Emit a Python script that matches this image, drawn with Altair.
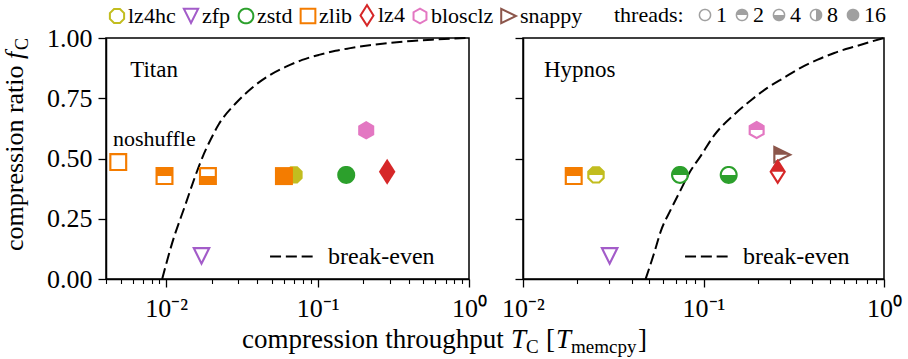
import math
import altair as alt
import pandas as pd

FONT = "Liberation Serif"

# ---------------- data ----------------
compressors = ["lz4hc", "zfp", "zstd", "zlib", "lz4", "blosclz", "snappy"]
comp_colors = ["#c2bd1f", "#a35cc9", "#2ca02c", "#f47c00", "#d62728", "#e377c2", "#8c564b"]
comp_shapes = ["octagon", "tri_down", "circle", "square", "thin_diamond", "hexagon", "tri_right"]
thread_levels = ["1", "2", "4", "8", "16"]
thread_fills = ["none", "top", "bottom", "right", "full"]
thread_color = "#a0a0a0"

# Titan
titan_comp = ["lz4hc", "zfp", "zlib", "zlib", "zlib", "zlib", "zstd", "lz4", "blosclz"]
titan_threads = ["16", "1", "1", "2", "4", "16", "16", "16", "16"]
titan_T = [0.0697, 0.0171, 0.00482, 0.00974, 0.01885, 0.0599, 0.1545, 0.288, 0.2094]
titan_f = [0.432, 0.095, 0.485, 0.427, 0.427, 0.427, 0.432, 0.445, 0.617]

# Hypnos
hyp_comp = ["lz4hc", "zfp", "zstd", "zstd", "zlib", "snappy", "blosclz", "lz4"]
hyp_threads = ["2", "1", "2", "4", "2", "2", "2", "2"]
hyp_T = [0.02537, 0.0302, 0.0741, 0.1379, 0.0191, 0.2747, 0.197, 0.2577]
hyp_f = [0.432, 0.095, 0.432, 0.432, 0.427, 0.516, 0.618, 0.445]

# break-even curves
titan_be_T = [0.0094, 0.01095, 0.01341, 0.01561, 0.01729, 0.01962, 0.02229, 0.02869, 0.03698,
              0.04768, 0.06138, 0.07911, 0.102, 0.1313, 0.161, 0.22, 0.3, 0.42, 0.6, 0.8, 1.0]
titan_be_f = [0.0, 0.15, 0.31, 0.43, 0.503, 0.578, 0.643, 0.728, 0.794,
              0.844, 0.880, 0.909, 0.930, 0.947, 0.957, 0.970, 0.980, 0.988, 0.994, 0.998, 1.0]
hyp_be_T = [0.0478, 0.0534, 0.0581, 0.0661, 0.0750, 0.0834, 0.0968, 0.1148, 0.1482,
            0.1833, 0.2268, 0.2804, 0.3469, 0.4293, 0.5305, 0.7148, 0.85, 1.0]
hyp_be_f = [0.0, 0.11, 0.20, 0.29, 0.372, 0.44, 0.512, 0.597, 0.683,
            0.742, 0.794, 0.836, 0.877, 0.910, 0.938, 0.968, 0.985, 1.0]
be_label = "break-even"

# annotations
titan_ann = {"text": ["Titan", "noshuffle"], "T": [0.00578, 0.00445], "f": [0.838, 0.552], "size": [23, 22]}
hyp_ann = {"text": ["Hypnos"], "T": [0.01307], "f": [0.838], "size": [23]}

y_ticks = [0.0, 0.25, 0.5, 0.75, 1.0]
left_major = [0.01, 0.1, 1.0]
left_minor = [0.004, 0.005, 0.006, 0.007, 0.008, 0.009,
              0.02, 0.03, 0.04, 0.05, 0.06, 0.07, 0.08, 0.09,
              0.2, 0.3, 0.4, 0.5, 0.6, 0.7, 0.8, 0.9]
right_major = [0.01, 0.1, 1.0]
right_minor = [0.02, 0.03, 0.04, 0.05, 0.06, 0.07, 0.08, 0.09,
               0.2, 0.3, 0.4, 0.5, 0.6, 0.7, 0.8, 0.9]
exp_label = "datum.value == 0.01 ? '10⁻²' : datum.value == 0.1 ? '10⁻¹' : datum.value == 1 ? '10⁰' : ''"

# ---------------- marker shapes (styles) ----------------
def regular(n, r, rot):
    return [(r * math.sin(math.radians(rot + 360.0 * k / n)),
             -r * math.cos(math.radians(rot + 360.0 * k / n))) for k in range(n)]

BASE = {
    "circle": regular(48, 1.0, 0),
    "square": [(-1.0, -1.0), (1.0, -1.0), (1.0, 1.0), (-1.0, 1.0)],
    "octagon": regular(8, 1.05, 22.5),
    "hexagon": regular(6, 1.03, 0),
    "thin_diamond": [(0.0, -1.45), (0.92, 0.0), (0.0, 1.45), (-0.92, 0.0)],
    "tri_down": [(-1.05, -1.0), (1.05, -1.0), (0.0, 1.1)],
    "tri_right": [(-1.05, -1.05), (1.1, 0.0), (-1.05, 1.05)],
}


def signed_area(p):
    return 0.5 * sum(p[i][0] * p[(i + 1) % len(p)][1] - p[(i + 1) % len(p)][0] * p[i][1]
                     for i in range(len(p)))


def inset(poly, d):
    s = 1.0 if signed_area(poly) > 0 else -1.0
    n = len(poly)
    lines = []
    for i in range(n):
        (x1, y1), (x2, y2) = poly[i], poly[(i + 1) % n]
        ex, ey = x2 - x1, y2 - y1
        L = math.hypot(ex, ey)
        ex, ey = ex / L, ey / L
        nx, ny = -ey * s, ex * s
        lines.append(((x1 + nx * d, y1 + ny * d), (ex, ey)))
    out = []
    for i in range(n):
        (px, py), (e1x, e1y) = lines[i - 1]
        (qx, qy), (e2x, e2y) = lines[i]
        den = e1x * e2y - e1y * e2x
        t = ((qx - px) * e2y - (qy - py) * e2x) / den
        out.append((px + t * e1x, py + t * e1y))
    return out


HALF = {"top": lambda p: p[1], "bottom": lambda p: -p[1],
        "right": lambda p: -p[0], "left": lambda p: p[0]}


def clip_half(poly, f):
    out = []
    n = len(poly)
    for i in range(n):
        cur, prev = poly[i], poly[i - 1]
        fc, fp = f(cur), f(prev)
        if fc <= 0:
            if fp > 0:
                t = fp / (fp - fc)
                out.append((prev[0] + t * (cur[0] - prev[0]), prev[1] + t * (cur[1] - prev[1])))
            out.append(cur)
        elif fp <= 0:
            t = fp / (fp - fc)
            out.append((prev[0] + t * (cur[0] - prev[0]), prev[1] + t * (cur[1] - prev[1])))
    return out


def path_str(poly):
    return "M" + "L".join(f"{x:.3f},{y:.3f}" for x, y in poly) + "Z"


def marker_path(shape, fill, d=0.24):
    outer = BASE[shape]
    if fill == "full":
        return path_str(outer)
    inner = inset(outer, d)
    p = path_str(outer) + path_str(list(reversed(inner)))
    if fill != "none":
        p += path_str(clip_half(inner, HALF[fill]))
    return p


shape_of = dict(zip(compressors, comp_shapes))
fill_of = dict(zip(thread_levels, thread_fills))

# ---------------- chart pieces ----------------
yscale = alt.Scale(domain=[0, 1], nice=False, zero=False)


def axis_common():
    return dict(domainColor="black", domainWidth=1.5, tickColor="black", tickWidth=1.3,
                labelColor="black", labelFont=FONT, labelFontSize=26, grid=False)


def points_layer(comp, threads, T, f, xscale, major, show_ylabels):
    keys = [c + "|" + t for c, t in zip(comp, threads)]
    df = pd.DataFrame({"compressor": comp, "threads": threads, "T": T, "f": f, "key": keys})
    dom = sorted(set(keys))
    rng = [marker_path(shape_of[k.split("|")[0]], fill_of[k.split("|")[1]]) for k in dom]
    xa = alt.Axis(values=major, title=None, orient="bottom", labelExpr=exp_label, tickSize=8,
                  labelPadding=8, labelFlush=False, labelOverlap=False, **axis_common())
    if show_ylabels:
        ya = alt.Axis(values=y_ticks, title=None, orient="left", format=".2f", tickSize=8,
                      labelPadding=6, labelOverlap=False, labelFlush=False, **axis_common())
    else:
        ya = alt.Axis(values=y_ticks, title=None, orient="left", labels=False, tickSize=8,
                      **axis_common())
    return alt.Chart(df).mark_point(filled=True, opacity=1, strokeWidth=0, size=324).encode(
        x=alt.X("T:Q", scale=xscale, axis=xa),
        y=alt.Y("f:Q", scale=yscale, axis=ya),
        color=alt.Color("compressor:N", scale=alt.Scale(domain=compressors, range=comp_colors), legend=None),
        shape=alt.Shape("key:N", scale=alt.Scale(domain=dom, range=rng), legend=None),
    )


def line_layer(T, f, xscale, minor, lx):
    df = pd.DataFrame({"T": T, "f": f, "label": [be_label] * len(T)})
    xa = alt.Axis(values=minor, title=None, orient="bottom", labels=False, domain=False, tickSize=4.5,
                  tickColor="black", tickWidth=1.1, grid=False)
    return alt.Chart(df).mark_line(color="black", strokeWidth=2, interpolate="monotone",
                                   strokeDash=[11, 4.8]).encode(
        x=alt.X("T:Q", scale=xscale, axis=xa),
        y=alt.Y("f:Q", scale=yscale, axis=None),
        strokeDash=alt.StrokeDash("label:N", scale=alt.Scale(domain=[be_label], range=[[11, 4.8]]),
                                  legend=alt.Legend(title=None, orient="none", legendX=lx, legendY=194,
                                                    symbolType="stroke", symbolSize=2200,
                                                    symbolStrokeWidth=2, symbolStrokeColor="black",
                                                    symbolDash=[11, 4.8], labelFont=FONT, labelFontSize=24,
                                                    labelColor="black", labelOffset=10, padding=0)),
    )


def ann_layer(ann, xscale):
    df = pd.DataFrame(ann)
    return alt.Chart(df).mark_text(font=FONT, fontStyle="normal", align="left", baseline="alphabetic",
                                   color="black").encode(
        x=alt.X("T:Q", scale=xscale, axis=None),
        y=alt.Y("f:Q", scale=yscale, axis=None),
        text="text:N",
        size=alt.Size("size:Q", scale=None, legend=None),
    )


def piece(s, x, y, size, style="normal", angle=0):
    return alt.Chart(alt.Data(values=[{"t": s}])).mark_text(
        font=FONT, fontSize=size, fontStyle=style, angle=angle, align="left",
        baseline="alphabetic", color="black").encode(x=alt.value(x), y=alt.value(y), text="t:N")


xs_left = alt.Scale(type="log", domain=[0.004, 1.0], nice=False)
xs_right = alt.Scale(type="log", domain=[0.01, 1.0], nice=False)

leg_comp = dict(title=None, orient="none", legendX=0, legendY=-34, direction="horizontal",
                symbolSize=280, symbolStrokeWidth=0, symbolOpacity=1, labelFont=FONT,
                labelFontSize=22, labelColor="black", labelOffset=0, columnPadding=4, padding=0)
comp_legend_layer = alt.Chart(pd.DataFrame({"compressor": compressors})).mark_point(
    filled=True, opacity=0, strokeWidth=0).encode(
    color=alt.Color("compressor:N", scale=alt.Scale(domain=compressors, range=comp_colors),
                    legend=alt.Legend(**leg_comp)),
    shape=alt.Shape("compressor:N", scale=alt.Scale(domain=compressors,
                    range=[marker_path(s, "none") for s in comp_shapes]),
                    legend=alt.Legend(**leg_comp)),
)
thread_legend_layer = alt.Chart(pd.DataFrame({"threads": thread_levels})).mark_point(
    filled=True, opacity=0, strokeWidth=0, color=thread_color).encode(
    shape=alt.Shape("threads:N", scale=alt.Scale(domain=thread_levels,
                    range=[marker_path("circle", fl) for fl in thread_fills]),
                    legend=alt.Legend(title=None, orient="none", legendX=585, legendY=-34,
                                      direction="horizontal", symbolSize=160, symbolStrokeWidth=0,
                                      symbolOffset=3, symbolOpacity=1, labelFont=FONT, labelFontSize=22,
                                      labelColor="black", labelOffset=0, columnPadding=1, padding=0)),
)

# axis-title pieces (left panel coordinates)
xt_y = 310
xt = [
    piece("compression throughput", 136, xt_y, 27),
    piece("T", 405, xt_y, 27, "italic"),
    piece("C", 420, xt_y + 5, 19),
    piece("[", 440, xt_y, 27),
    piece("T", 450, xt_y, 27, "italic"),
    piece("memcpy", 465, xt_y + 5, 19),
    piece("]", 532, xt_y, 27),
]
yt = [
    piece("compression ratio", -83, 213, 26, angle=270),
    piece("f", -83, 20.9, 26, "italic", angle=270),
    piece("C", -78, 11.9, 18, angle=270),
]
threads_title = piece("threads:", 508, -16, 22)

left = alt.layer(
    line_layer(titan_be_T, titan_be_f, xs_left, left_minor, 163),
    points_layer(titan_comp, titan_threads, titan_T, titan_f, xs_left, left_major, True),
    ann_layer(titan_ann, xs_left),
    comp_legend_layer,
    thread_legend_layer,
    threads_title,
    *xt, *yt,
).resolve_scale(shape="independent", color="independent").resolve_axis(
    x="independent", y="independent").properties(width=363, height=241)

right = alt.layer(
    line_layer(hyp_be_T, hyp_be_f, xs_right, right_minor, 161),
    points_layer(hyp_comp, hyp_threads, hyp_T, hyp_f, xs_right, right_major, False),
    ann_layer(hyp_ann, xs_right),
).resolve_axis(x="independent", y="independent").properties(width=361, height=241)

chart = alt.hconcat(left, right, spacing=54, bounds="flush").resolve_scale(
    shape="independent", color="independent", strokeDash="independent").properties(
    padding={"left": 1, "top": 3, "right": 5, "bottom": 0}, background="white").configure(
    font=FONT).configure_view(stroke="black", strokeWidth=1.5).configure_legend(
    labelFont=FONT).configure_axis(labelFont=FONT).configure_text(font=FONT)

chart.save("out.html", embed_options={"renderer": "svg", "actions": False})
